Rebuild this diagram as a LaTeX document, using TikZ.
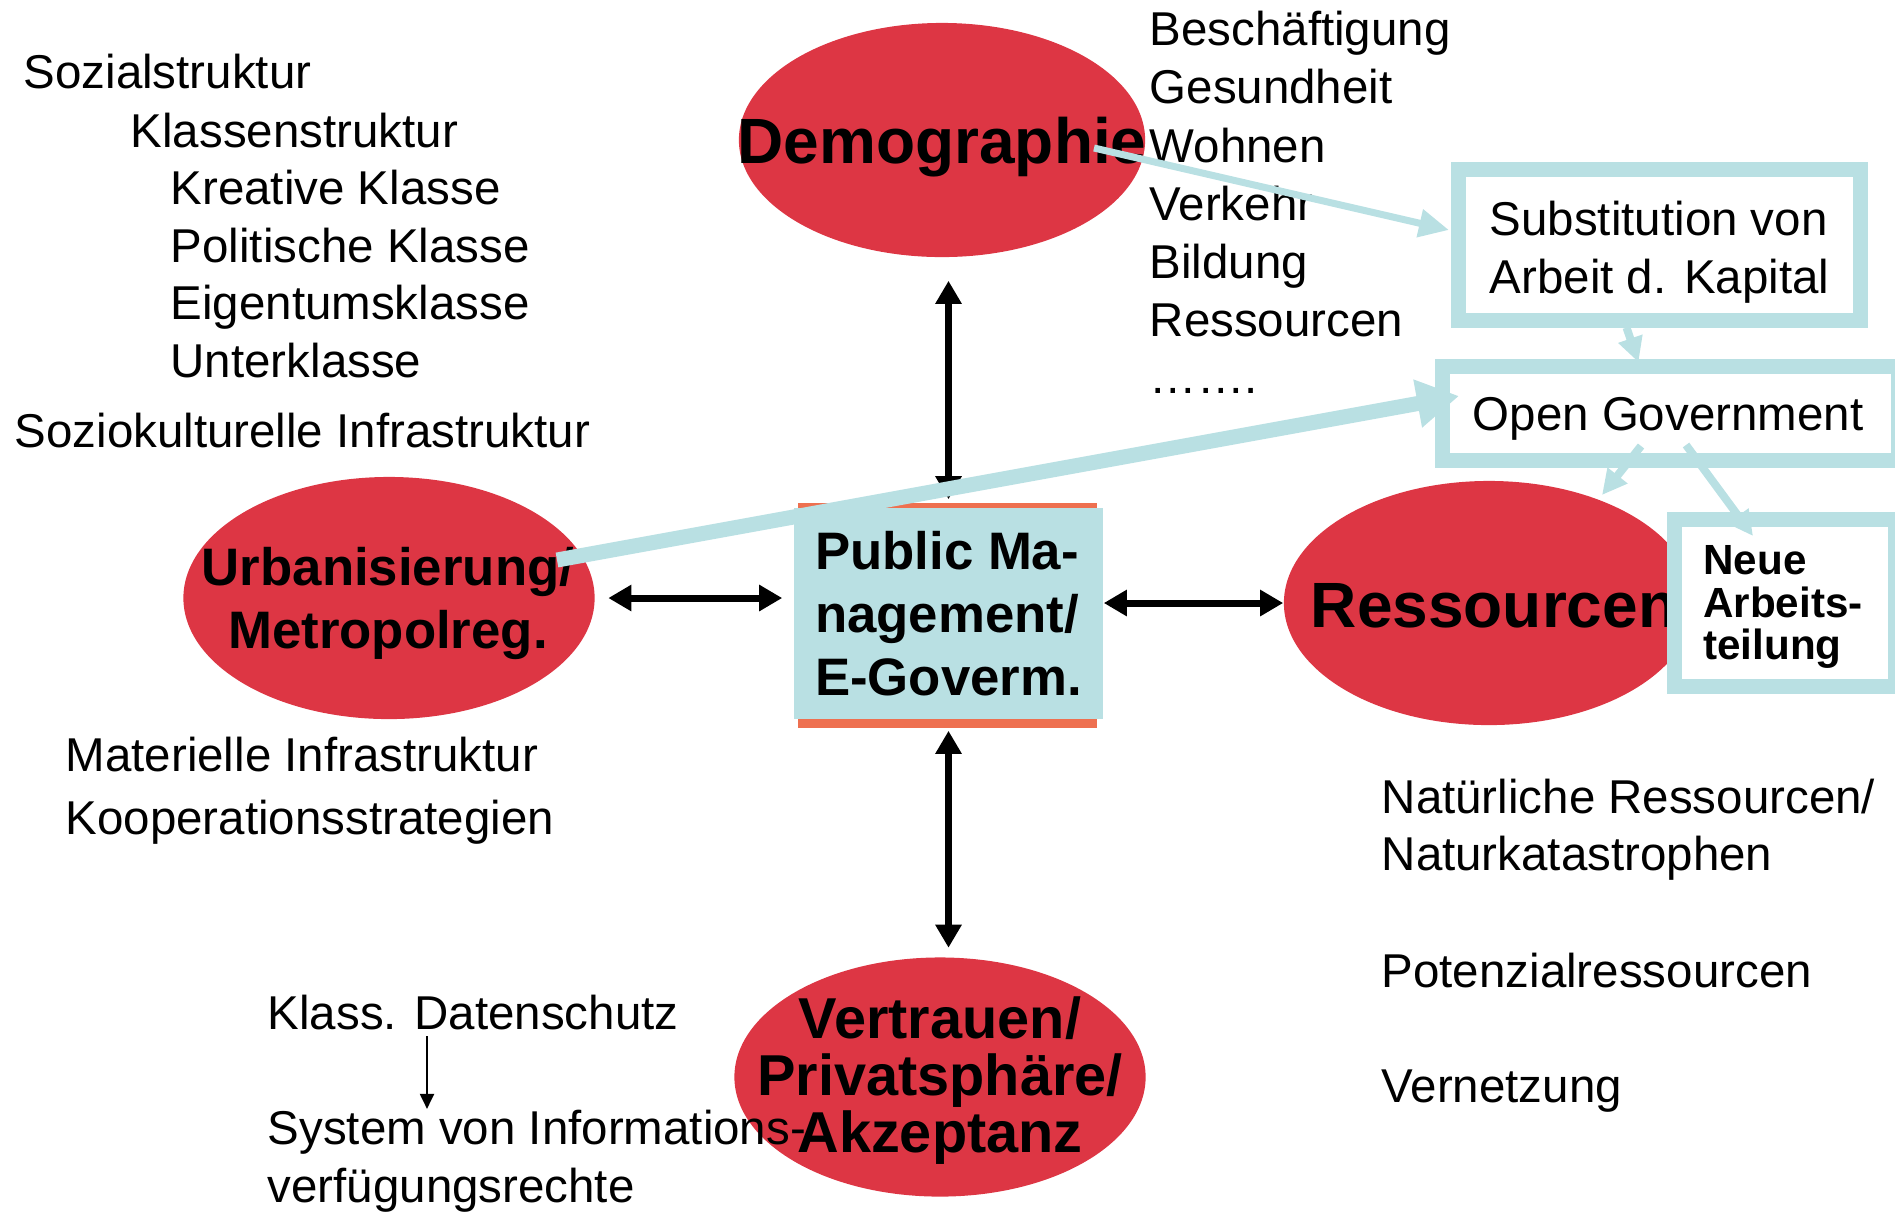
\documentclass[tikz,border=0pt]{standalone}
\usepackage{fontspec}
\setmainfont{Liberation Sans}
\usetikzlibrary{arrows.meta,shapes.geometric}
\definecolor{blobred}{RGB}{221,54,68}
\definecolor{paleblue}{RGB}{185,224,227}
\definecolor{barorange}{RGB}{238,112,80}
\newcommand\bodysize{\fontsize{13.5}{16.5}\selectfont}
\tikzset{
  blob/.style={ellipse, fill=blobred, inner sep=0pt},
  txt/.style={anchor=base west, inner sep=0pt, font=\bodysize},
  bigtxt/.style={anchor=base, inner sep=0pt, font=\bfseries\fontsize{18.2}{20}\selectfont},
  midtxt/.style={inner sep=0pt, align=center, font=\bfseries\fontsize{15}{17.9}\selectfont},
  framebox/.style={draw=paleblue, line width=0.15cm, fill=white, inner sep=0pt},
  boxtxt/.style={inner sep=0pt, align=left, font=\bodysize},
  dblarr/.style={{Triangle[length=0.23cm,width=0.25cm]}-{Triangle[length=0.23cm,width=0.25cm]}, line width=0.07cm},
  bluearr/.style={-{Triangle[length=0.25cm,width=0.24cm]}, paleblue, line width=0.08cm},
  thinarr/.style={-{Triangle[length=0.15cm,width=0.14cm]}, line width=0.02cm},
}
\begin{document}
\begin{tikzpicture}[x=0.01cm, y=-0.01cm]
  \clip (0,0) rectangle (1895,1211);
  % centre box
  \fill[barorange] (798,503) rectangle (1097,728);
  \node[fill=paleblue, minimum width=3.09cm, minimum height=2.11cm, inner sep=0pt, align=left,
    font=\bfseries\fontsize{15}{18}\selectfont] (pm) at (948.5,613.5) {Public Ma-\\nagement/\\E-Goverm.};
  % ellipses
  \node[blob, minimum width=4.06cm, minimum height=2.34cm] (demo) at (942,140) {};
  \node[blob, minimum width=4.11cm, minimum height=2.42cm] (urb) at (389,598) {};
  \node[blob, minimum width=4.10cm, minimum height=2.44cm] (res) at (1489,603) {};
  \node[blob, minimum width=4.11cm, minimum height=2.39cm] (vert) at (940,1077) {};
  \node[bigtxt] (demoT) at (942,163) {Demographie};
  \node[midtxt] (urbT) at (388,603) {Urbanisierung/\\Metropolreg.};
  \node[bigtxt] (resT) at (1494,627) {Ressourcen};
  \node[midtxt, font=\bfseries\fontsize{16.4}{16.2}\selectfont] (vertT) at (940,1081) {Vertrauen/\\Privatsphäre/\\Akzeptanz};
  % list next to Demographie
  \node[txt] (d1) at (1149,45) {Beschäftigung};
  \node[txt] (d2) at (1149,103) {Gesundheit};
  \node[txt] (d3) at (1149,162) {Wohnen};
  \node[txt] (d4) at (1149,220) {Verkehr};
  \node[txt] (d5) at (1149,278) {Bildung};
  \node[txt] (d6) at (1149,336) {Ressourcen};
  \node[txt] (d7) at (1149,393) {…….};
  % left list
  \node[txt] (s1) at (23,88) {Sozialstruktur};
  \node[txt] (s2) at (130,147) {Klassenstruktur};
  \node[txt] (s3) at (170,204) {Kreative Klasse};
  \node[txt] (s4) at (170,262) {Politische Klasse};
  \node[txt] (s5) at (170,319) {Eigentumsklasse};
  \node[txt] (s6) at (170,377) {Unterklasse};
  \node[txt] (s7) at (14,447) {Soziokulturelle Infrastruktur};
  \node[txt] (m1) at (65,771) {Materielle Infrastruktur};
  \node[txt] (m2) at (65,834) {Kooperationsstrategien};
  % right list
  \node[txt] (r1) at (1381,813) {Natürliche Ressourcen/};
  \node[txt] (r2) at (1381,870) {Naturkatastrophen};
  \node[txt] (r3) at (1381,987) {Potenzialressourcen};
  \node[txt] (r4) at (1381,1102) {Vernetzung};
  % bottom left
  \node[txt] (klass) at (267,1029) {Klass. Datenschutz};
  \node[txt] (sys) at (267,1144) {System von Informations-};
  \node[txt] (verf) at (267,1202) {verfügungsrechte};
  \draw[thinarr, shorten <=0.06cm] (klass.south -| 427,0) -- (sys.north -| 427,0);
  % black arrows
  \draw[dblarr, shorten <=0.23cm, shorten >=0.08cm] (demo.south -| pm.north) -- (pm.north);
  \draw[dblarr, shorten <=0.11cm, shorten >=0.09cm] (pm.south) -- (vert.north -| pm.south);
  \draw[dblarr, shorten <=0.13cm, shorten >=0.11cm] (urb.east) -- (urb.east -| pm.west);
  \draw[dblarr] (res.west -| pm.east) -- (res.west);
  % blue boxes
  \node[framebox, minimum width=4.01cm, minimum height=1.50cm] (sub) at (1659.5,245) {};
  \node[boxtxt] (subT) at (1659.5,252) {Substitution von\\Arbeit d. Kapital};
  \node[framebox, minimum width=4.55cm, minimum height=0.93cm] (open) at (1670.5,413.5) {};
  \node[boxtxt] (openT) at (1668,419) {Open Government};
  \node[framebox, minimum width=2.20cm, minimum height=1.66cm] (neue) at (1785,603) {};
  \node[boxtxt, font=\bfseries\fontsize{12}{12}\selectfont] (neueT) at (1783,607) {Neue\\Arbeits-\\teilung};
  % blue arrows
  \coordinate (demoOut) at (1094,148);
  \coordinate (subIn) at (1449,230);
  \coordinate (urbOut) at (557,560);
  \coordinate (openIn) at (1459,396);
  \coordinate (openL) at (1641,446);
  \coordinate (resIn) at (1602,495);
  \coordinate (openR) at (1686,445);
  \coordinate (neueIn) at (1753,536);
  \draw[bluearr, line width=0.07cm, -{Triangle[length=0.3cm,width=0.27cm]}] (demoOut) -- (subIn);
  \draw[bluearr, line width=0.15cm, -{Triangle[length=0.42cm,width=0.46cm]}] (urbOut) -- (openIn);
  \draw[bluearr, shorten >=-0.03cm] ([xshift=-0.33cm]sub.south) -- ([xshift=-0.33cm]open.north);
  \draw[bluearr] (openL) -- (resIn);
  \draw[bluearr] (openR) -- (neueIn);
\end{tikzpicture}
\end{document}
